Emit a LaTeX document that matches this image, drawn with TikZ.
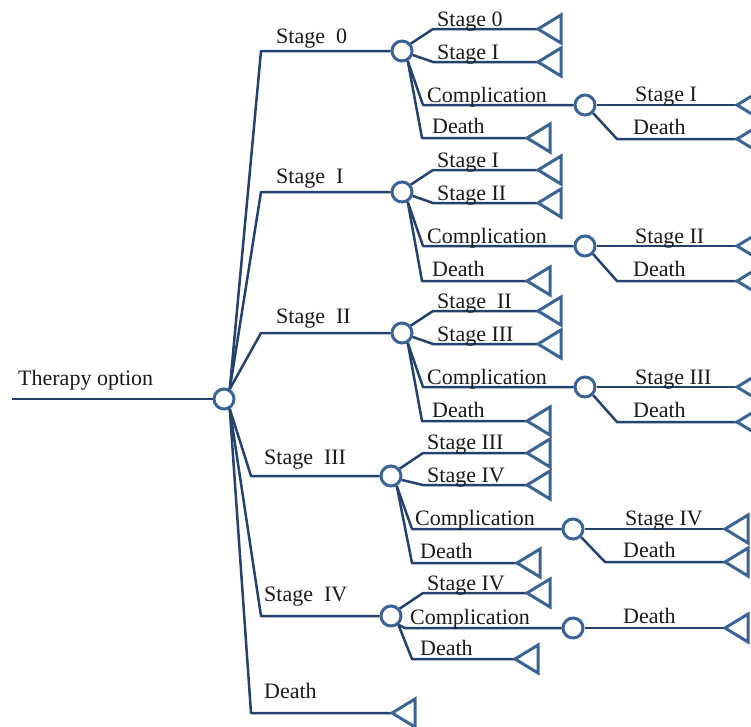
\documentclass[tikz,border=0pt]{standalone}
\usepackage{fontspec}
\setmainfont{Liberation Serif}
\definecolor{lineblue}{HTML}{23426E}
\definecolor{nodeblue}{HTML}{3A6496}
\definecolor{txt}{HTML}{1A1A1A}
\newcommand{\lbfont}{\fontsize{22}{25}\selectfont}
\tikzset{
  chance/.style={circle, draw=nodeblue, line width=3pt, fill=white,
                 minimum size=20pt, inner sep=0pt},
  branch/.style={draw=lineblue, line width=2.5pt, line join=round},
  lbl/.style={anchor=base west, inner sep=0pt, text=txt, font=\lbfont},
  term/.style={draw=nodeblue, line width=3pt, line join=miter, fill=white},
  pics/endtri/.style={code={\draw[term] (0,0) -- (23,-14) -- (23,14) -- cycle;}}
}
\begin{document}
\begin{tikzpicture}[x=1pt,y=-1pt]
\useasboundingbox (0,0) rectangle (751,726);

% ---- chance nodes
\node[chance] (R)  at (224,399) {};
\node[chance] (S0) at (402,51)  {};
\node[chance] (S1) at (402,192) {};
\node[chance] (S2) at (402,333) {};
\node[chance] (S3) at (391,476) {};
\node[chance] (S4) at (391,616) {};
\node[chance] (C0) at (585,105) {};
\node[chance] (C1) at (585,246) {};
\node[chance] (C2) at (585,387) {};
\node[chance] (C3) at (573,529) {};
\node[chance] (C4) at (573,628) {};

% ---- terminal points (apex of each end triangle)
\coordinate (in)  at (12,399);
\coordinate (TD)  at (392,713);
\coordinate (T0a) at (538,29);   \coordinate (T0b) at (538,62);  \coordinate (T0d) at (527,138);
\coordinate (T1a) at (538,170);  \coordinate (T1b) at (538,203); \coordinate (T1d) at (527,281);
\coordinate (T2a) at (538,311);  \coordinate (T2b) at (538,344); \coordinate (T2d) at (527,421);
\coordinate (T3a) at (527,453);  \coordinate (T3b) at (527,485); \coordinate (T3d) at (517,563);
\coordinate (T4a) at (527,593);  \coordinate (T4d) at (515,659);
\coordinate (U0a) at (737,105);  \coordinate (U0d) at (737,139);
\coordinate (U1a) at (737,246);  \coordinate (U1d) at (737,281);
\coordinate (U2a) at (737,387);  \coordinate (U2d) at (737,422);
\coordinate (U3a) at (725,529);  \coordinate (U3d) at (725,562);
\coordinate (U4d) at (725,628);

% ---- root decision
\draw[branch] (in) -- (R.west);
\draw[branch] (R.60)  -- (261,51)  -- (S0.west);
\draw[branch] (R.60)  -- (261,192) -- (S1.west);
\draw[branch] (R.60)  -- (261,333) -- (S2.west);
\draw[branch] (R.-60) -- (251,476) -- (S3.west);
\draw[branch] (R.-60) -- (261,616) -- (S4.west);
\draw[branch] (R.-60) -- (251,713) -- (TD);

% ---- Stage 0 subtree
\draw[branch] (S0.40)  -- (433,29)  -- (T0a);
\draw[branch] (S0.-20) -- (433,62)  -- (T0b);
\draw[branch] (S0.-60) -- (423,105) -- (C0.west);
\draw[branch] (S0.-60) -- (422,138) -- (T0d);
\draw[branch] (C0.east) -- (U0a);
\draw[branch] (C0.-45) -- (617,139) -- (U0d);

% ---- Stage I subtree
\draw[branch] (S1.40)  -- (433,170) -- (T1a);
\draw[branch] (S1.-20) -- (433,203) -- (T1b);
\draw[branch] (S1.-60) -- (423,246) -- (C1.west);
\draw[branch] (S1.-60) -- (422,281) -- (T1d);
\draw[branch] (C1.east) -- (U1a);
\draw[branch] (C1.-45) -- (617,281) -- (U1d);

% ---- Stage II subtree
\draw[branch] (S2.40)  -- (433,311) -- (T2a);
\draw[branch] (S2.-20) -- (433,344) -- (T2b);
\draw[branch] (S2.-60) -- (423,387) -- (C2.west);
\draw[branch] (S2.-60) -- (422,421) -- (T2d);
\draw[branch] (C2.east) -- (U2a);
\draw[branch] (C2.-45) -- (617,422) -- (U2d);

% ---- Stage III subtree
\draw[branch] (S3.40)  -- (423,453) -- (T3a);
\draw[branch] (S3.-20) -- (423,485) -- (T3b);
\draw[branch] (S3.-60) -- (412,529) -- (C3.west);
\draw[branch] (S3.-60) -- (412,563) -- (T3d);
\draw[branch] (C3.east) -- (U3a);
\draw[branch] (C3.-45) -- (605,562) -- (U3d);

% ---- Stage IV subtree
\draw[branch] (S4.40)  -- (423,593) -- (T4a);
\draw[branch] (S4.-50) -- (405,628) -- (C4.west);
\draw[branch] (S4.-50) -- (412,659) -- (T4d);
\draw[branch] (C4.east) -- (U4d);

% ---- end triangles
\foreach \t in {TD,T0a,T0b,T0d,T1a,T1b,T1d,T2a,T2b,T2d,T3a,T3b,T3d,T4a,T4d,
                U0a,U0d,U1a,U1d,U2a,U2d,U3a,U3d,U4d}
  \pic at (\t) {endtri};

% ---- labels
\node[lbl] (l-root) at (18,385)  {Therapy option};
\node[lbl] (l-s0)   at (276,43)  {Stage\ \ 0};
\node[lbl] (l-s1)   at (276,183) {Stage\ \ I};
\node[lbl] (l-s2)   at (276,323) {Stage\ \ II};
\node[lbl] (l-s3)   at (264,464) {Stage\ \ III};
\node[lbl] (l-s4)   at (264,601) {Stage\ \ IV};
\node[lbl] (l-sd)   at (264,698) {Death};

\node[lbl] (l-0a) at (437,26)  {Stage 0};
\node[lbl] (l-0b) at (437,59)  {Stage I};
\node[lbl] (l-0c) at (427,102) {Complication};
\node[lbl] (l-0d) at (432,133) {Death};
\node[lbl] (l-0e) at (635,101) {Stage I};
\node[lbl] (l-0f) at (633,134) {Death};

\node[lbl] (l-1a) at (437,167) {Stage I};
\node[lbl] (l-1b) at (437,200) {Stage II};
\node[lbl] (l-1c) at (427,243) {Complication};
\node[lbl] (l-1d) at (432,276) {Death};
\node[lbl] (l-1e) at (635,243) {Stage II};
\node[lbl] (l-1f) at (633,276) {Death};

\node[lbl] (l-2a) at (437,308) {Stage\ \ II};
\node[lbl] (l-2b) at (437,341) {Stage III};
\node[lbl] (l-2c) at (427,384) {Complication};
\node[lbl] (l-2d) at (432,417) {Death};
\node[lbl] (l-2e) at (635,384) {Stage III};
\node[lbl] (l-2f) at (633,417) {Death};

\node[lbl] (l-3a) at (427,449) {Stage III};
\node[lbl] (l-3b) at (427,482) {Stage IV};
\node[lbl] (l-3c) at (415,525) {Complication};
\node[lbl] (l-3d) at (420,558) {Death};
\node[lbl] (l-3e) at (625,525) {Stage IV};
\node[lbl] (l-3f) at (623,557) {Death};

\node[lbl] (l-4a) at (427,590) {Stage IV};
\node[lbl] (l-4c) at (410,624) {Complication};
\node[lbl] (l-4d) at (420,655) {Death};
\node[lbl] (l-4f) at (623,623) {Death};
\end{tikzpicture}
\end{document}
